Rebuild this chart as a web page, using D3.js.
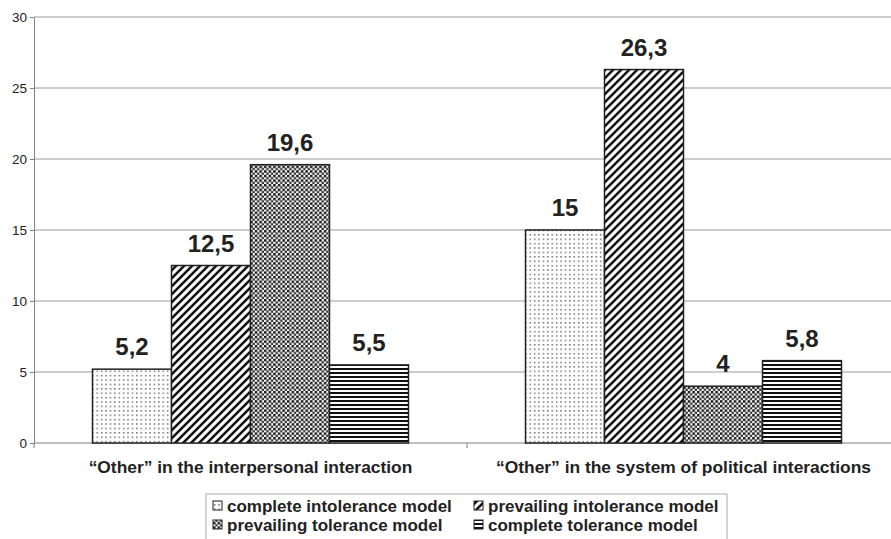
<!DOCTYPE html>
<html>
<head>
<meta charset="utf-8">
<script src="https://cdn.jsdelivr.net/npm/d3@7"></script>
<style>
  body { margin: 0; background: #fff; }
  text { font-family: "Liberation Sans", Arial, sans-serif; }
</style>
</head>
<body>
<div id="chart-area"></div>
<script>
const categories = ["\u201COther\u201D in the interpersonal interaction", "\u201COther\u201D in the system of political interactions"];
const seriesNames = ["complete intolerance model", "prevailing intolerance model", "prevailing tolerance model", "complete tolerance model"];
const interpersonal = [5.2, 12.5, 19.6, 5.5];
const political = [15, 26.3, 4, 5.8];
const valueLabels = [["5,2", "12,5", "19,6", "5,5"], ["15", "26,3", "4", "5,8"]];
const yTicks = [0, 5, 10, 15, 20, 25, 30];

const seriesValues = [interpersonal, political];

const svgWidth = 891;
const svgHeight = 539;
const svg = d3.select("#chart-area")
  .append("svg")
  .attr("width", svgWidth)
  .attr("height", svgHeight);

// patterns
const defs = svg.append("defs");

const p1 = defs.append("pattern").attr("id", "pat0")
  .attr("patternUnits", "userSpaceOnUse").attr("width", 4.4).attr("height", 4.4);
p1.append("rect").attr("width", 4.4).attr("height", 4.4).attr("fill", "#fff");
p1.append("rect").attr("x", 1).attr("y", 1).attr("width", 1.3).attr("height", 1.3).attr("fill", "#444");

const p2 = defs.append("pattern").attr("id", "pat1")
  .attr("patternUnits", "userSpaceOnUse").attr("width", 8).attr("height", 8);
p2.append("rect").attr("width", 8).attr("height", 8).attr("fill", "#fff");
p2.append("path").attr("d", "M-2,2 L2,-2 M0,8 L8,0 M6,10 L10,6")
  .attr("stroke", "#111").attr("stroke-width", 2.6);

const p3 = defs.append("pattern").attr("id", "pat2")
  .attr("patternUnits", "userSpaceOnUse").attr("width", 4.6).attr("height", 4.6);
p3.append("rect").attr("width", 4.6).attr("height", 4.6).attr("fill", "#fff");
p3.append("rect").attr("x", 0).attr("y", 0).attr("width", 2.5).attr("height", 2.5).attr("fill", "#1a1a1a");
p3.append("rect").attr("x", 2.3).attr("y", 2.3).attr("width", 2.4).attr("height", 2.4).attr("fill", "#333");

const p4 = defs.append("pattern").attr("id", "pat3")
  .attr("patternUnits", "userSpaceOnUse").attr("width", 4).attr("height", 4);
p4.append("rect").attr("width", 4).attr("height", 4).attr("fill", "#fff");
p4.append("rect").attr("y", 0).attr("width", 4).attr("height", 2).attr("fill", "#111");

const plotLeft = 34;
const plotRight = 900;
const plotTop = 17;
const plotBottom = 443;

const xSlot = d3.scaleBand()
  .domain(categories)
  .range([plotLeft, plotRight]);

const gap = 117;
const x1 = d3.scaleBand()
  .domain(seriesNames)
  .range([gap / 2, xSlot.bandwidth() - gap / 2]);

const y = d3.scaleLinear()
  .domain([0, 30])
  .range([plotBottom, plotTop]);

// gridlines
svg.append("g")
  .selectAll("line")
  .data(yTicks.filter(d => d > 0))
  .enter()
  .append("line")
  .attr("x1", plotLeft)
  .attr("x2", svgWidth)
  .attr("y1", d => y(d))
  .attr("y2", d => y(d))
  .attr("stroke", "#9a9a9a")
  .attr("stroke-width", 1);

// y axis
const yAxis = svg.append("g")
  .attr("transform", `translate(${plotLeft},0)`)
  .call(d3.axisLeft(y).tickValues(yTicks).tickSize(4).tickPadding(3).tickSizeOuter(0));
yAxis.select(".domain").attr("stroke", "#808080");
yAxis.selectAll(".tick line").attr("stroke", "#808080");
yAxis.selectAll(".tick text")
  .attr("font-size", 13.5)
  .attr("fill", "#222")
  .style("font-family", "'Liberation Sans', Arial, sans-serif");

// x axis line and ticks
svg.append("line")
  .attr("x1", plotLeft).attr("x2", svgWidth)
  .attr("y1", plotBottom).attr("y2", plotBottom)
  .attr("stroke", "#808080");

const boundaries = categories.map(c => xSlot(c)).concat([xSlot(categories[1]) + xSlot.bandwidth()]);
svg.append("g")
  .selectAll("line")
  .data(boundaries)
  .enter()
  .append("line")
  .attr("x1", d => d).attr("x2", d => d)
  .attr("y1", plotBottom).attr("y2", plotBottom + 5)
  .attr("stroke", "#808080");

// bars
const groups = svg.append("g")
  .selectAll("g")
  .data(categories)
  .enter()
  .append("g")
  .attr("transform", c => `translate(${xSlot(c)},0)`);

const rows = (c, gi) => seriesNames.map((s, si) => ({ s, si, v: seriesValues[gi][si], label: valueLabels[gi][si] }));

groups.selectAll("rect")
  .data(rows)
  .enter()
  .append("rect")
  .attr("x", d => x1(d.s))
  .attr("y", d => y(d.v))
  .attr("width", x1.bandwidth())
  .attr("height", d => plotBottom - y(d.v))
  .attr("fill", d => `url(#pat${d.si})`)
  .attr("stroke", "#222")
  .attr("stroke-width", 1.5);

groups.selectAll("text.val")
  .data(rows)
  .enter()
  .append("text")
  .attr("class", "val")
  .attr("x", d => x1(d.s) + x1.bandwidth() / 2)
  .attr("y", d => y(d.v) - 14)
  .attr("text-anchor", "middle")
  .attr("font-size", 24)
  .attr("font-weight", "bold")
  .attr("fill", "#222")
  .text(d => d.label);

// category labels
svg.append("g")
  .selectAll("text")
  .data(categories)
  .enter()
  .append("text")
  .attr("x", c => xSlot(c) + xSlot.bandwidth() / 2)
  .attr("y", 473)
  .attr("text-anchor", "middle")
  .attr("font-size", 17.4)
  .attr("font-weight", "bold")
  .attr("fill", "#222")
  .text(c => c);

// legend
const legend = svg.append("g");
legend.append("rect")
  .attr("x", 206).attr("y", 494)
  .attr("width", 521).attr("height", 60)
  .attr("fill", "#fff")
  .attr("stroke", "#aaa");

const legendCols = [213, 474];
const legendRows = [512, 531];
const items = legend.selectAll("g")
  .data(seriesNames)
  .enter()
  .append("g")
  .attr("transform", (d, i) => `translate(${legendCols[i % 2]},${legendRows[Math.floor(i / 2)]})`);

items.append("rect")
  .attr("x", 0).attr("y", -11)
  .attr("width", 9).attr("height", 9)
  .attr("fill", (d, i) => `url(#pat${i})`)
  .attr("stroke", "#222")
  .attr("stroke-width", 1);

items.append("text")
  .attr("x", 14)
  .attr("y", 0)
  .attr("font-size", 17)
  .attr("font-weight", "bold")
  .attr("fill", "#222")
  .text(d => d);
</script>
</body>
</html>
